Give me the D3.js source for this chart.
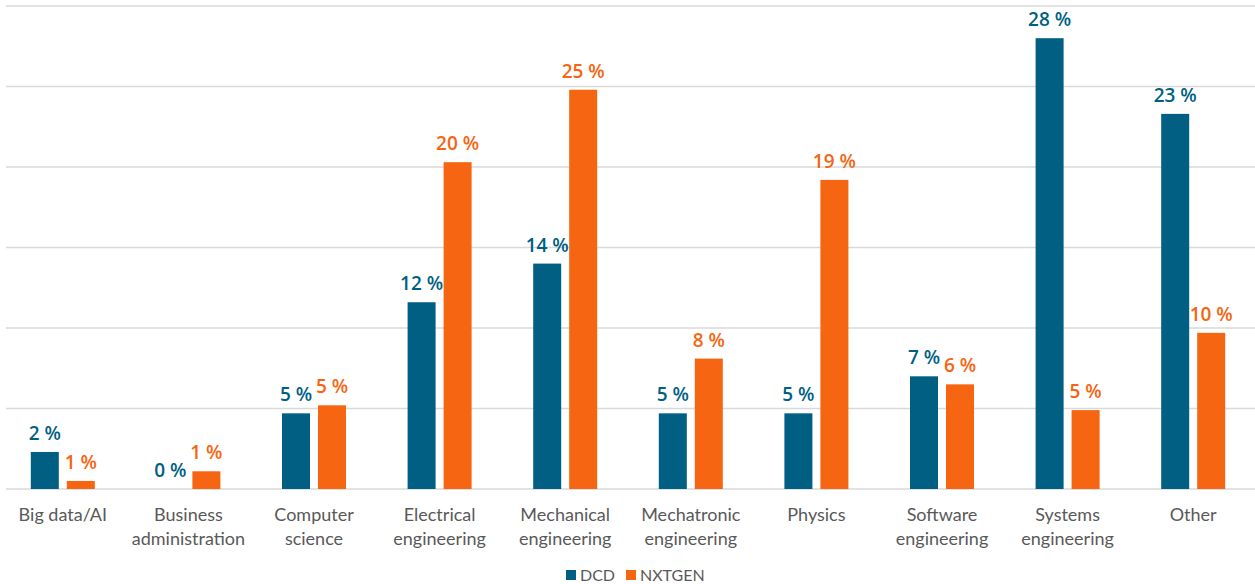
<!DOCTYPE html>
<html><head><meta charset="utf-8">
<script src="https://cdn.jsdelivr.net/npm/d3@7"></script>
<style>body{margin:0;background:#fff;}svg{display:block;}</style>
</head><body>
<svg id="chart" width="1255" height="584"></svg>
<script>
const categories = ["Big data/AI","Business administration","Computer science","Electrical engineering","Mechanical engineering","Mechatronic engineering","Physics","Software engineering","Systems engineering","Other"];
const categoryLines = [["Big data/AI"],["Business","administration"],["Computer","science"],["Electrical","engineering"],["Mechanical","engineering"],["Mechatronic","engineering"],["Physics"],["Software","engineering"],["Systems","engineering"],["Other"]];
const seriesNames = ["DCD","NXTGEN"];
const dcd = [2.3, 0, 4.7, 11.6, 14.0, 4.7, 4.7, 7.0, 28.0, 23.3];
const nxtgen = [0.5, 1.1, 5.2, 20.3, 24.8, 8.1, 19.2, 6.5, 4.9, 9.7];
const dcdLabels = ["2 %","0 %","5 %","12 %","14 %","5 %","5 %","7 %","28 %","23 %"];
const nxtgenLabels = ["1 %","1 %","5 %","20 %","25 %","8 %","19 %","6 %","5 %","10 %"];
const yTicks = [0,5,10,15,20,25,30];
const colors = {DCD:"#005f83", NXTGEN:"#f66511"};

const svg = d3.select("#chart");
const font = "Lato, 'Open Sans', sans-serif";
const x = d3.scaleBand().domain(categories).range([0,1256]);
const y = d3.scaleLinear().domain([0,30]).range([489,6]);

svg.append("g").selectAll("line").data(yTicks).join("line")
  .attr("x1",6).attr("x2",1255)
  .attr("y1",d=>y(d)).attr("y2",d=>y(d))
  .attr("stroke","#d9d9d9").attr("stroke-width",1.3);

const data = [];
categories.forEach((c,i)=>{
  data.push({c, s:"DCD", v:dcd[i], l:dcdLabels[i]});
  data.push({c, s:"NXTGEN", v:nxtgen[i], l:nxtgenLabels[i]});
});
const bw = 28, gap = 8;
const bx = d => x(d.c) + x.bandwidth()/2 + (d.s==="DCD" ? -gap/2-bw : gap/2);

svg.append("g").selectAll("rect").data(data).join("rect")
  .attr("x",bx).attr("width",bw)
  .attr("y",d=>y(d.v)).attr("height",d=>y(0)-y(d.v))
  .attr("fill",d=>colors[d.s]);

svg.append("g").selectAll("text").data(data).join("text")
  .attr("x",d=>bx(d)+bw/2).attr("y",d=>y(d.v)-12)
  .attr("text-anchor","middle")
  .attr("font-family","'Open Sans', sans-serif").attr("font-size",19).attr("font-weight",600)
  .attr("fill",d=>colors[d.s]).text(d=>d.l);

const cl = svg.append("g").selectAll("text").data(categories).join("text")
  .attr("text-anchor","middle").attr("font-family",font).attr("font-size",18)
  .attr("fill","#595959")
  .attr("transform",d=>`translate(${x(d)+x.bandwidth()/2},521)`);
cl.selectAll("tspan").data((d,i)=>categoryLines[i]).join("tspan")
  .attr("x",0).attr("y",(d,i)=>i*24).text(d=>d);

const lg = svg.append("g").attr("font-family",font).attr("font-size",16).attr("fill","#595959");
const legItems = [{n:"DCD",x:566},{n:"NXTGEN",x:626}];
legItems.forEach(it=>{
  lg.append("rect").attr("x",it.x).attr("y",570).attr("width",10).attr("height",10).attr("fill",colors[it.n]);
  lg.append("text").attr("x",it.x+14).attr("y",580.5).text(it.n);
});
</script>
</body></html>
